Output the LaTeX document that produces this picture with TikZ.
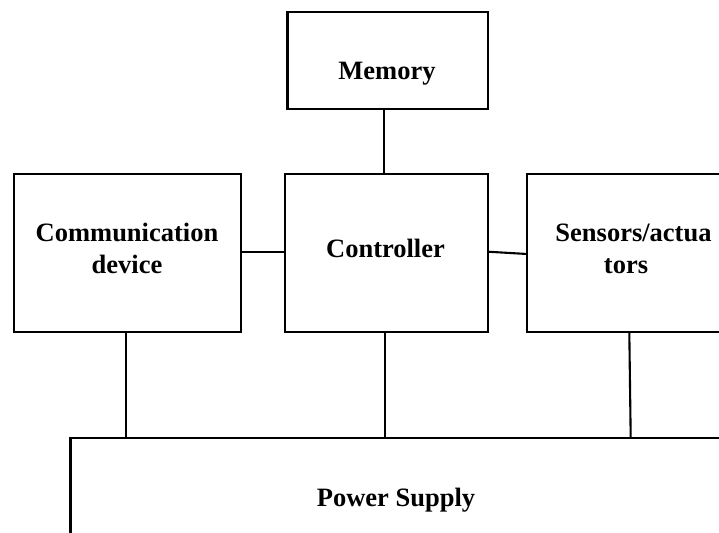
\documentclass[tikz,border=0pt]{standalone}
\usepackage{fontspec}
\setmainfont{Liberation Serif}
\begin{document}
\begin{tikzpicture}[x=1pt,y=-1pt,
  blk/.style={draw=black, line width=2.1pt, rectangle, inner sep=0pt, outer sep=0pt},
  wire/.style={draw=black, line width=2.1pt},
  lbl/.style={font=\fontsize{26.5}{31}\selectfont\bfseries, inner sep=0pt, anchor=base}]
\useasboundingbox (0,0) rectangle (719,532);
\clip (0,0) rectangle (719,532);

% blocks
\node[blk, minimum width=200.5pt, minimum height=97pt]  (mem)   at (387.75,60.5) {};
\node[blk, minimum width=203pt,   minimum height=158pt] (ctrl)  at (386.5,253)   {};
\node[blk, minimum width=227pt,   minimum height=158pt] (comm)  at (127.5,253)   {};
\node[blk, minimum width=206pt,   minimum height=158pt] (sens)  at (630,253)     {};
\node[blk, minimum width=699.5pt, minimum height=162pt] (power) at (420.25,519)  {};

% labels
\node[lbl] (tmem)   at (387,80)      {Memory};
\node[lbl] (tcomm1) at (127,241.7)   {Communication};
\node[lbl] (tcomm2) at (127,273.3)   {device};
\node[lbl] (tctrl)  at (385.5,257.7) {Controller};
\node[lbl] (tsens1) at (633.5,241.7) {Sensors/actua};
\node[lbl] (tsens2) at (626,273.3)   {tors};
\node[lbl] (tpow)   at (396,506)     {Power Supply};

% connections
\draw[wire] (384.3,0 |- mem.south) -- (384.3,0 |- ctrl.north);
\draw[wire] (comm.east |- 0,251.7) -- (ctrl.west |- 0,251.7);
\draw[wire] (ctrl.east |- 0,251.7) -- (sens.west |- 0,254);
\draw[wire] (126,0 |- comm.south) -- (126,0 |- power.north);
\draw[wire] (385,0 |- ctrl.south) -- (385,0 |- power.north);
\draw[wire] (629.3,0 |- sens.south) -- (630.7,0 |- power.north);
\end{tikzpicture}
\end{document}
